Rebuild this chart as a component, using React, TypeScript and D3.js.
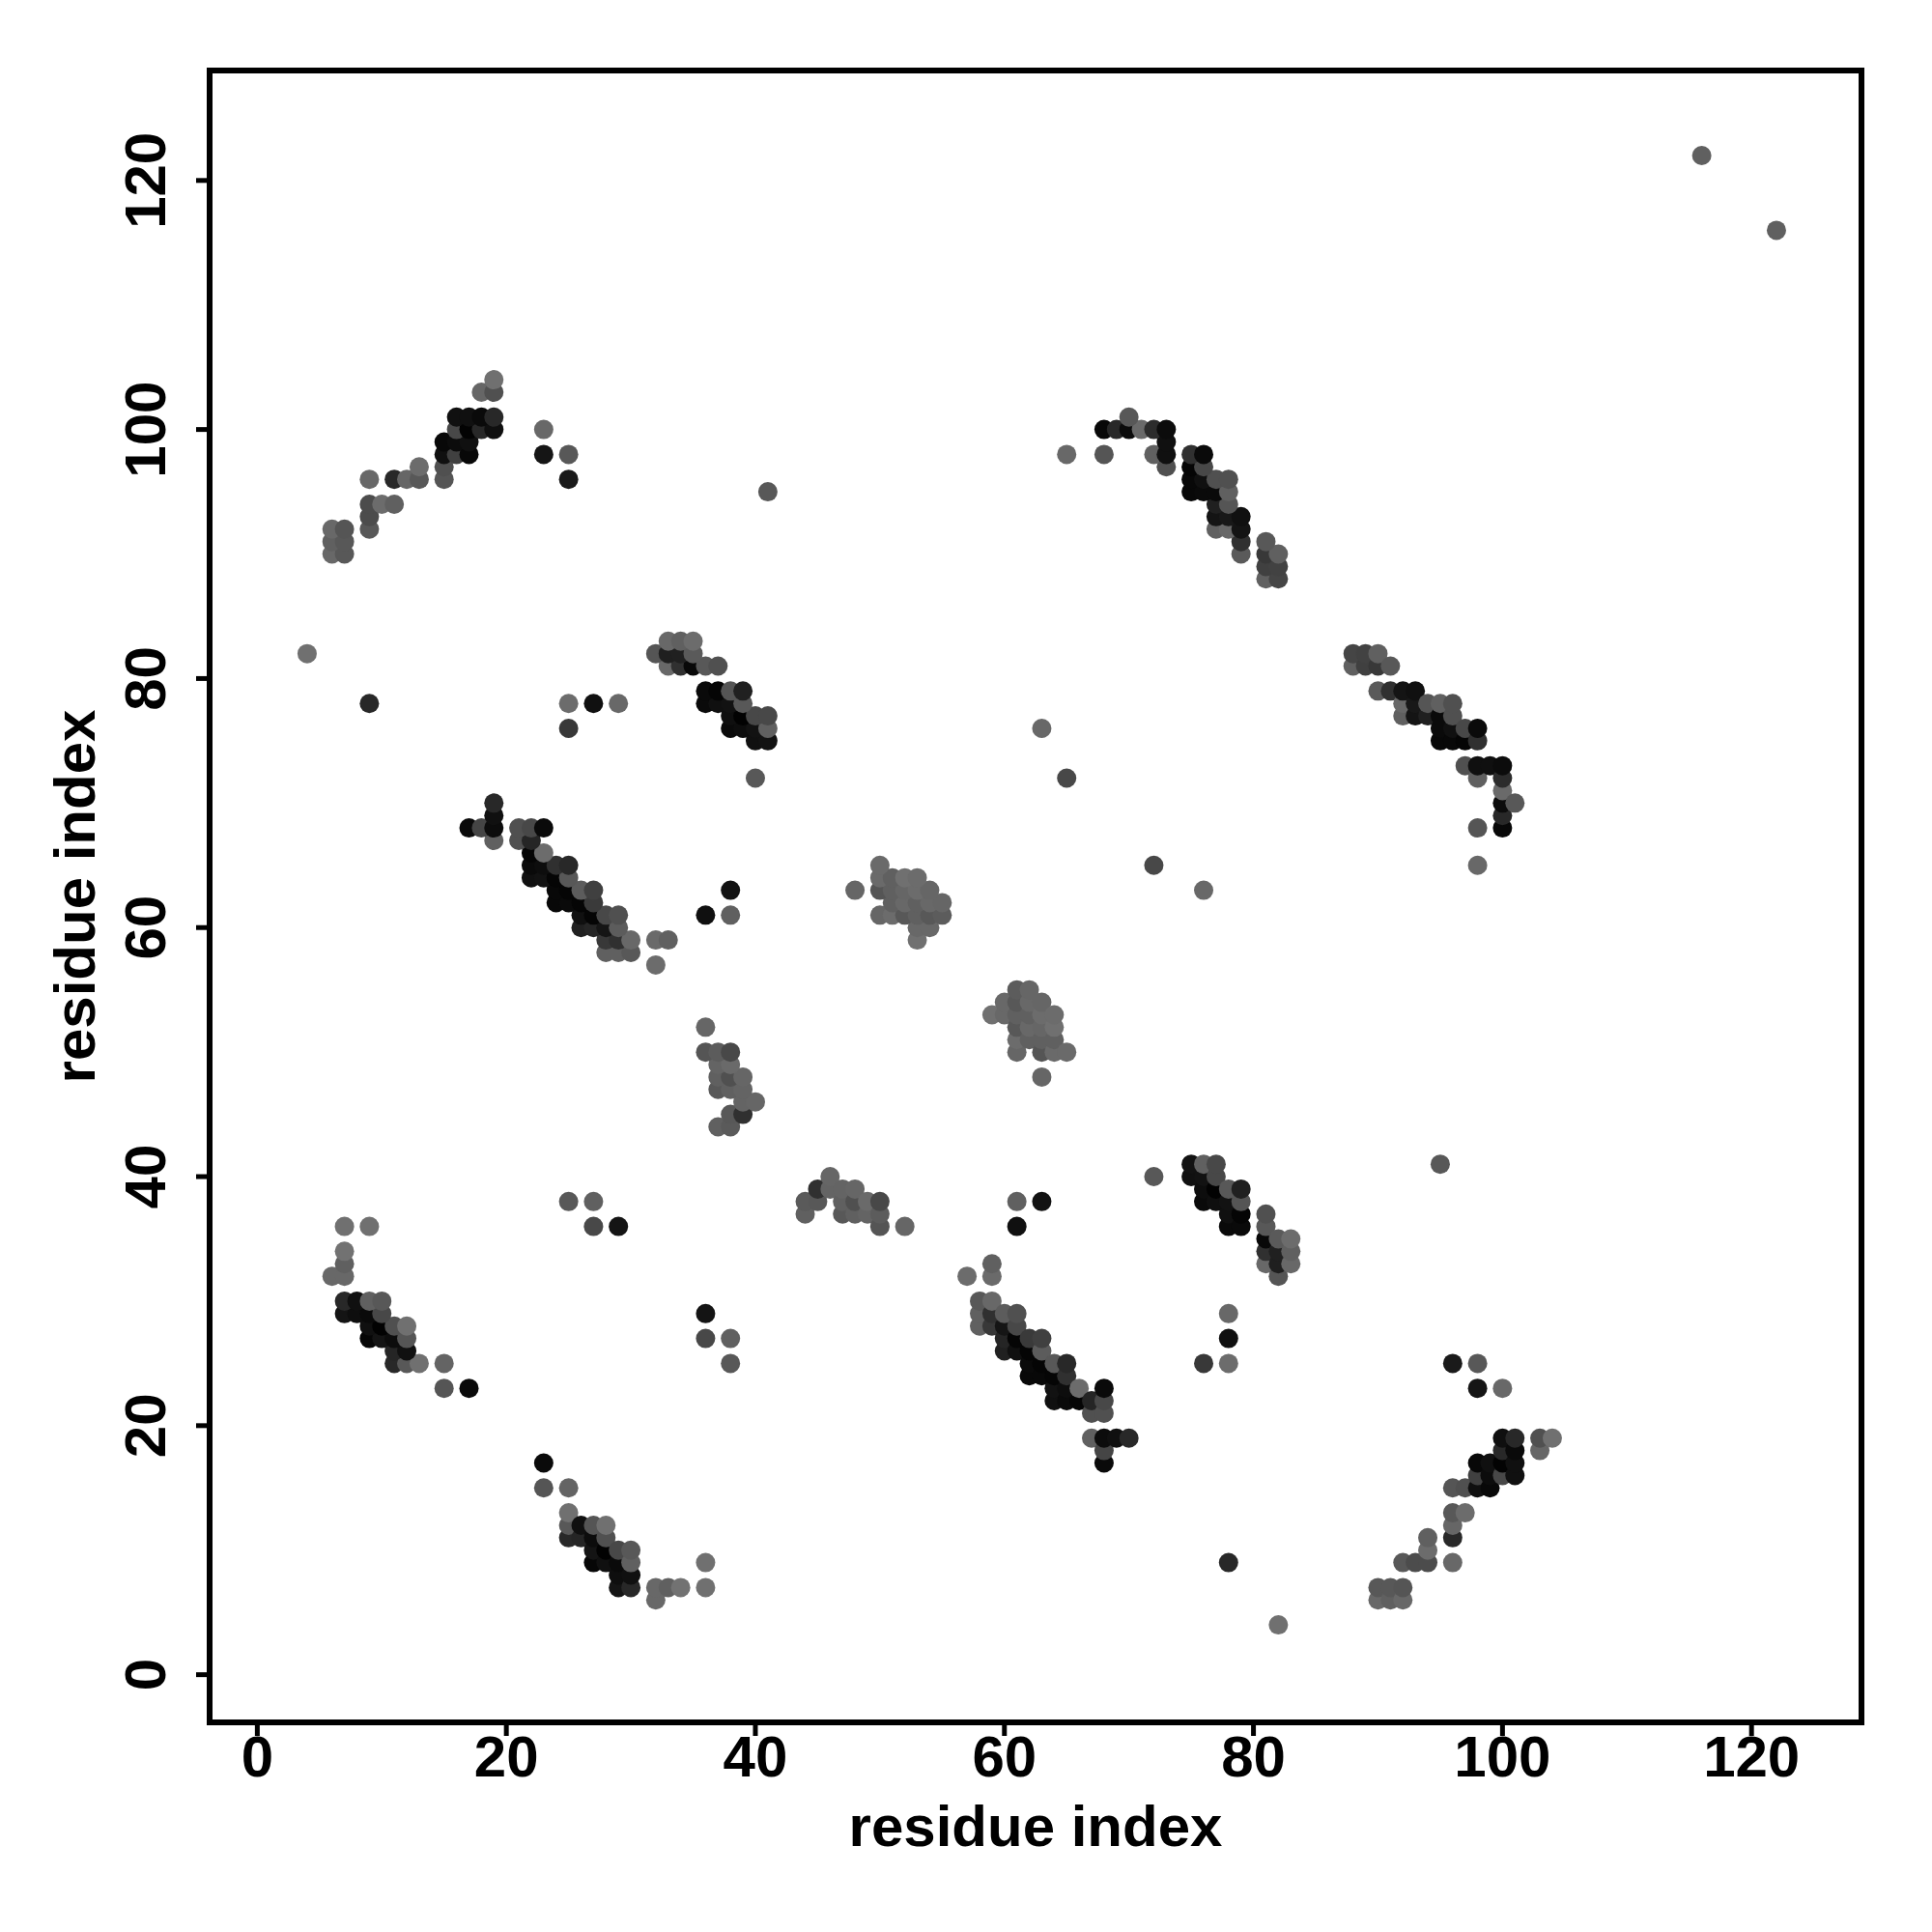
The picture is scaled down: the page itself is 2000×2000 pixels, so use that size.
import React from "react";
import * as d3 from "d3";

type C = [number, number, number];

const contactsA: C[] = [
  [19,104,0x70],[18,103,0x66],[19,103,0x50],
  [16,101,0x10],[17,101,0x10],[18,101,0x0a],[19,101,0x28],
  [16,100,0x48],[17,100,0x03],[18,100,0x28],[19,100,0x0f],
  [15,99,0x08],[16,99,0x0c],[17,99,0x10],
  [15,98,0x10],[16,98,0x40],[17,98,0x08],
  [15,97,0x50],[13,97,0x6c],
  [15,96,0x55],[9,96,0x68],[11,96,0x28],[12,96,0x66],[13,96,0x58],
  [9,94,0x4c],[10,94,0x6c],[11,94,0x60],
  [9,93,0x4c],[9,92,0x58],
  [6,92,0x68],[7,92,0x55],[6,91,0x60],[7,91,0x58],[6,90,0x68],[7,90,0x58],
  [23,100,0x68],[23,98,0x15],[25,98,0x58],[25,96,0x1a],
];

const contactsB: C[] = [
  [70,101,0x58],
  [68,100,0x08],[69,100,0x28],[70,100,0x0c],[71,100,0x6a],[72,100,0x2c],[73,100,0x0c],
  [73,99,0x10],
  [65,98,0x68],[68,98,0x55],[72,98,0x60],[73,98,0x10],[75,98,0x30],[76,98,0x0a],
  [73,97,0x50],[75,97,0x05],[76,97,0x48],
  [75,96,0x08],[76,96,0x10],[77,96,0x50],[78,96,0x50],
  [75,95,0x08],[76,95,0x0a],[77,95,0x0a],[78,95,0x60],
  [77,94,0x20],[78,94,0x55],
  [77,93,0x14],[78,93,0x18],[79,93,0x10],
  [77,92,0x60],[78,92,0x68],[79,92,0x14],
  [79,91,0x30],[79,90,0x5a],
  [81,91,0x58],[82,90,0x60],[81,90,0x38],[81,89,0x40],[82,89,0x42],[81,88,0x60],[82,88,0x45],
];

const contactsC: C[] = [
  [33,83,0x68],[34,83,0x60],[35,83,0x6c],
  [32,82,0x55],[33,82,0x1f],[34,82,0x20],[35,82,0x5a],
  [33,81,0x68],[34,81,0x30],[35,81,0x08],[36,81,0x58],[37,81,0x50],
  [36,79,0x0a],[37,79,0x05],[38,79,0x55],[39,79,0x20],
  [36,78,0x0a],[37,78,0x10],[38,78,0x12],[39,78,0x58],
  [38,77,0x0f],[39,77,0x02],[40,77,0x48],[41,77,0x48],
  [38,76,0x0a],[39,76,0x0d],[40,76,0x12],[41,76,0x60],
  [40,75,0x10],[41,75,0x12],
  [40,72,0x58],[41,95,0x58],
];

const contactsD: C[] = [
  [19,70,0x28],[19,69,0x10],
  [17,68,0x0a],[18,68,0x45],[19,68,0x0c],[21,68,0x50],[22,68,0x48],[23,68,0x0a],
  [19,67,0x60],[21,67,0x50],[22,67,0x25],
  [22,66,0x05],[23,66,0x6c],
  [22,65,0x0a],[23,65,0x0d],[24,65,0x30],[25,65,0x28],
  [22,64,0x10],[23,64,0x12],[24,64,0x05],[25,64,0x58],
  [24,63,0x08],[25,63,0x05],[26,63,0x5c],[27,63,0x40],
  [24,62,0x08],[25,62,0x0a],[26,62,0x05],[27,62,0x3a],
  [26,61,0x10],[27,61,0x05],[28,61,0x48],[29,61,0x50],
  [26,60,0x20],[27,60,0x25],[28,60,0x15],[29,60,0x5c],
  [28,59,0x38],[29,59,0x30],[30,59,0x68],[32,59,0x6a],[33,59,0x60],
  [28,58,0x60],[29,58,0x60],[30,58,0x58],[32,57,0x6c],
  [36,61,0x10],[38,63,0x12],[38,61,0x60],
];

const contactsE: C[] = [
  [48,63,0x66],
  [50,65,0x6a],[50,64,0x6a],[50,63,0x55],
  [51,64,0x60],[52,64,0x70],[53,64,0x6c],
  [51,63,0x60],[52,63,0x66],[53,63,0x6c],[54,63,0x66],
  [51,62,0x60],[52,62,0x68],[53,62,0x60],[54,62,0x68],[55,62,0x66],
  [50,61,0x66],[51,61,0x6c],[52,61,0x58],[53,61,0x60],[54,61,0x58],[55,61,0x5c],
  [53,60,0x68],[54,60,0x68],[53,59,0x70],
];

const contactsF: C[] = [
  [36,52,0x66],
  [36,50,0x55],[37,50,0x5c],[38,50,0x48],
  [37,49,0x64],[38,49,0x6a],
  [37,48,0x60],[38,48,0x50],[39,48,0x66],
  [37,47,0x58],[38,47,0x60],[39,47,0x64],
  [39,46,0x64],[40,46,0x66],
  [38,45,0x58],[39,45,0x30],
  [37,44,0x60],[38,44,0x5a],
];

const contactsG: C[] = [
  [7,36,0x70],[9,36,0x70],[7,34,0x72],[7,33,0x60],[6,32,0x68],[7,32,0x68],
  [7,30,0x28],[8,30,0x10],[9,30,0x60],[10,30,0x58],
  [7,29,0x14],[8,29,0x0e],[9,29,0x0a],[10,29,0x48],
  [9,28,0x10],[10,28,0x02],[11,28,0x50],[12,28,0x70],
  [9,27,0x06],[10,27,0x14],[11,27,0x0c],[12,27,0x55],
  [11,26,0x25],[12,26,0x10],
  [11,25,0x28],[12,25,0x58],[13,25,0x70],[15,25,0x64],
  [15,23,0x55],[17,23,0x0a],
];

const contactsIsolated: C[] = [
  [4,82,0x70],[9,78,0x28],[25,78,0x6c],[27,78,0x10],[29,78,0x68],[25,76,0x38],
  [25,38,0x58],[27,38,0x60],[27,36,0x48],[29,36,0x14],
  [63,76,0x68],[65,72,0x48],[116,122,0x60],
];

const xTicks = [0, 20, 40, 60, 80, 100, 120];
const yTicks = [0, 20, 40, 60, 80, 100, 120];
const axisTitle = "residue index";

const upper = [
  ...contactsA, ...contactsB, ...contactsC, ...contactsD,
  ...contactsE, ...contactsF, ...contactsG, ...contactsIsolated,
];

const drawn = d3.sort(upper, (a, b) => a[1] - b[1] || a[0] - b[0]);

const x = d3.scaleLinear().domain([-3.83, 128.83]).range([217, 1927]);
const y = d3.scaleLinear().domain([-3.83, 128.83]).range([1783, 73]);
const shade = (g: number) => d3.rgb(g, g, g).formatHex();
const font = "'Liberation Sans', Arial, sans-serif";
const fontSize = 60;

export default function App() {
  return (
    <svg width={2000} height={2000} style={{ position: "absolute", left: 0, top: 0, background: "#fff" }}>
      {drawn.map(([i, j, g], k) => (
        <circle key={"u" + k} cx={x(i)} cy={y(j)} r={10} fill={shade(g)} />
      ))}
      {drawn.map(([i, j, g], k) => (
        <circle key={"l" + k} cx={x(j)} cy={y(i)} r={10} fill={shade(g)} />
      ))}
      <rect x={217} y={73} width={1710} height={1710} fill="none" stroke="#000" strokeWidth={6} />
      {xTicks.map((t) => (
        <g key={t}>
          <line x1={x(t)} x2={x(t)} y1={1783} y2={1797} stroke="#000" strokeWidth={5} />
          <text x={x(t)} y={1839} textAnchor="middle" fontFamily={font} fontWeight="bold" fontSize={fontSize}>{t}</text>
        </g>
      ))}
      {yTicks.map((t) => (
        <g key={t}>
          <line x1={217} x2={203} y1={y(t)} y2={y(t)} stroke="#000" strokeWidth={5} />
          <text transform={`translate(171,${y(t)}) rotate(-90)`} textAnchor="middle" fontFamily={font} fontWeight="bold" fontSize={fontSize}>{t}</text>
        </g>
      ))}
      <text x={1072} y={1911} textAnchor="middle" fontFamily={font} fontWeight="bold" fontSize={fontSize}>{axisTitle}</text>
      <text transform="translate(98,928) rotate(-90)" textAnchor="middle" fontFamily={font} fontWeight="bold" fontSize={fontSize}>{axisTitle}</text>
    </svg>
  );
}
